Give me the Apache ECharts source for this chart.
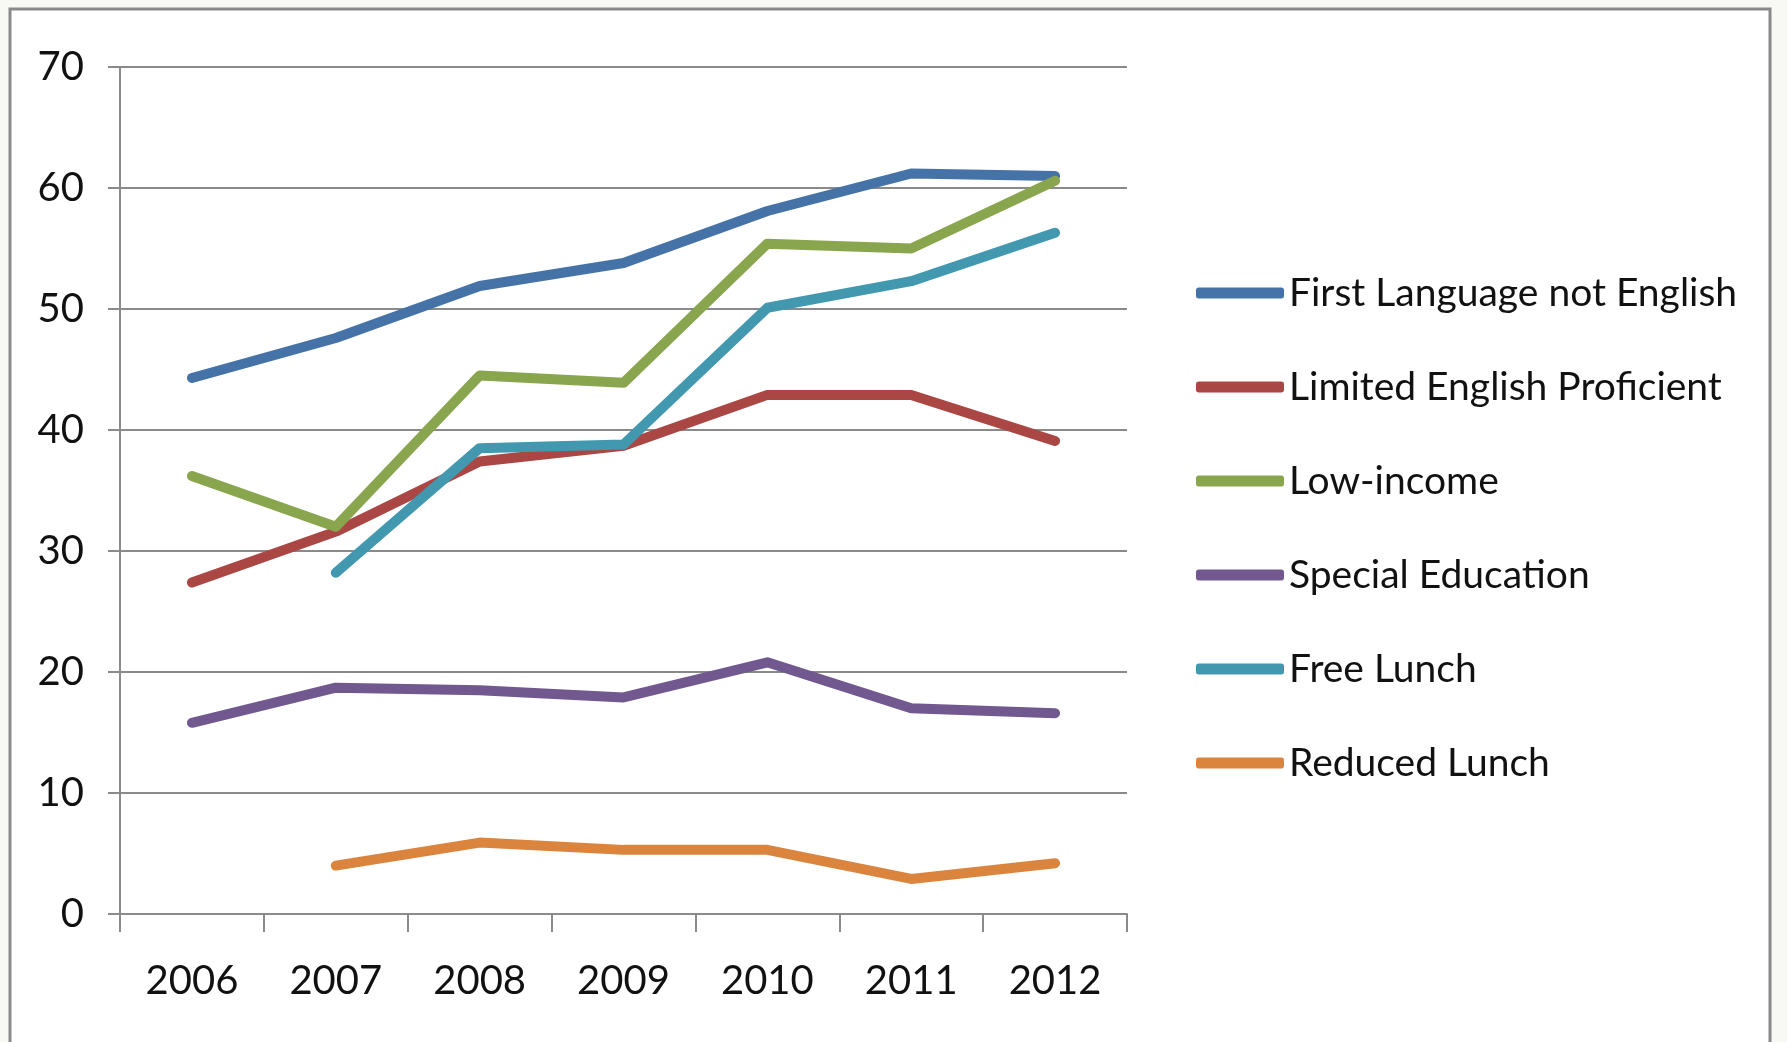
<!DOCTYPE html>
<html>
<head>
<meta charset="utf-8">
<title>Student groups 2006-2012</title>
<script src="https://cdn.jsdelivr.net/npm/echarts@6/dist/echarts.min.js"></script>
<style>
    html, body { margin: 0; padding: 0; background: #f8f8f4; }
    #main01 { width: 1787px; height: 1042px; }
</style>
</head>
<body>
<div id="main01"></div>
<script>
var years = ['2006', '2007', '2008', '2009', '2010', '2011', '2012'];
var yTicks = [0, 10, 20, 30, 40, 50, 60, 70];

var firstLanguage = [44.3, 47.6, 51.9, 53.8, 58.1, 61.2, 61.0];
var limitedEnglish = [27.4, 31.6, 37.4, 38.7, 42.9, 42.9, 39.1];
var lowIncome = [36.2, 32.0, 44.5, 43.9, 55.4, 55.0, 60.6];
var specialEd = [15.8, 18.7, 18.5, 17.9, 20.8, 17.0, 16.6];
var freeLunch = [null, 28.2, 38.5, 38.8, 50.1, 52.3, 56.3];
var reducedLunch = [null, 4.0, 5.9, 5.3, 5.3, 2.9, 4.2];

var seriesNames = ['First Language not English', 'Limited English Proficient', 'Low-income',
    'Special Education', 'Free Lunch', 'Reduced Lunch'];
var seriesData = [firstLanguage, limitedEnglish, lowIncome, specialEd, freeLunch, reducedLunch];
var seriesColors = ['#4572A7', '#AA4643', '#89A54E', '#71588F', '#4198AF', '#DB843D'];

var font = "Lato, 'DejaVu Sans Condensed', sans-serif";

/*************************** main01 ***************************/
function main01() {
    var myChart = echarts.init(document.getElementById('main01'));

    var series = [];
    for (var i = 0; i < seriesNames.length; i++) {
        series.push({
            name: seriesNames[i],
            type: 'line',
            data: seriesData[i],
            symbol: 'none',
            smooth: false,
            color: seriesColors[i],
            lineStyle: { width: 10, color: seriesColors[i], cap: 'round', join: 'round' }
        });
    }

    var option = {
        backgroundColor: '#f8f8f4',
        animation: false,
        graphic: [{
            type: 'rect',
            shape: { x: 10, y: 9, width: 1760, height: 1060 },
            style: { fill: '#ffffff', stroke: '#8a8a8a', lineWidth: 3 },
            z: -10
        }],
        grid: { left: 120, right: 660, top: 67, bottom: 128 },
        legend: {
            orient: 'vertical',
            left: 1191,
            top: 263,
            icon: 'roundRect',
            itemWidth: 88,
            itemHeight: 11,
            itemGap: 44,
            data: seriesNames,
            textStyle: { fontFamily: font, fontSize: 39, color: '#111', lineHeight: 50 }
        },
        xAxis: {
            type: 'category',
            data: years,
            boundaryGap: true,
            axisLine: { show: true, lineStyle: { color: '#8a8a8a', width: 2 } },
            axisTick: { show: true, length: 18, lineStyle: { color: '#8a8a8a', width: 2 } },
            axisLabel: { margin: 47, fontFamily: font, fontSize: 40, color: '#111' }
        },
        yAxis: {
            type: 'value',
            min: yTicks[0],
            max: yTicks[yTicks.length - 1],
            interval: 10,
            axisLine: { show: true, lineStyle: { color: '#8a8a8a', width: 2 } },
            axisTick: { show: true, length: 12, lineStyle: { color: '#8a8a8a', width: 2 } },
            splitLine: { lineStyle: { color: '#8a8a8a', width: 2 } },
            axisLabel: { margin: 36, fontFamily: font, fontSize: 40, color: '#111' }
        },
        series: series
    };

    myChart.setOption(option);
}

main01();
</script>
</body>
</html>
